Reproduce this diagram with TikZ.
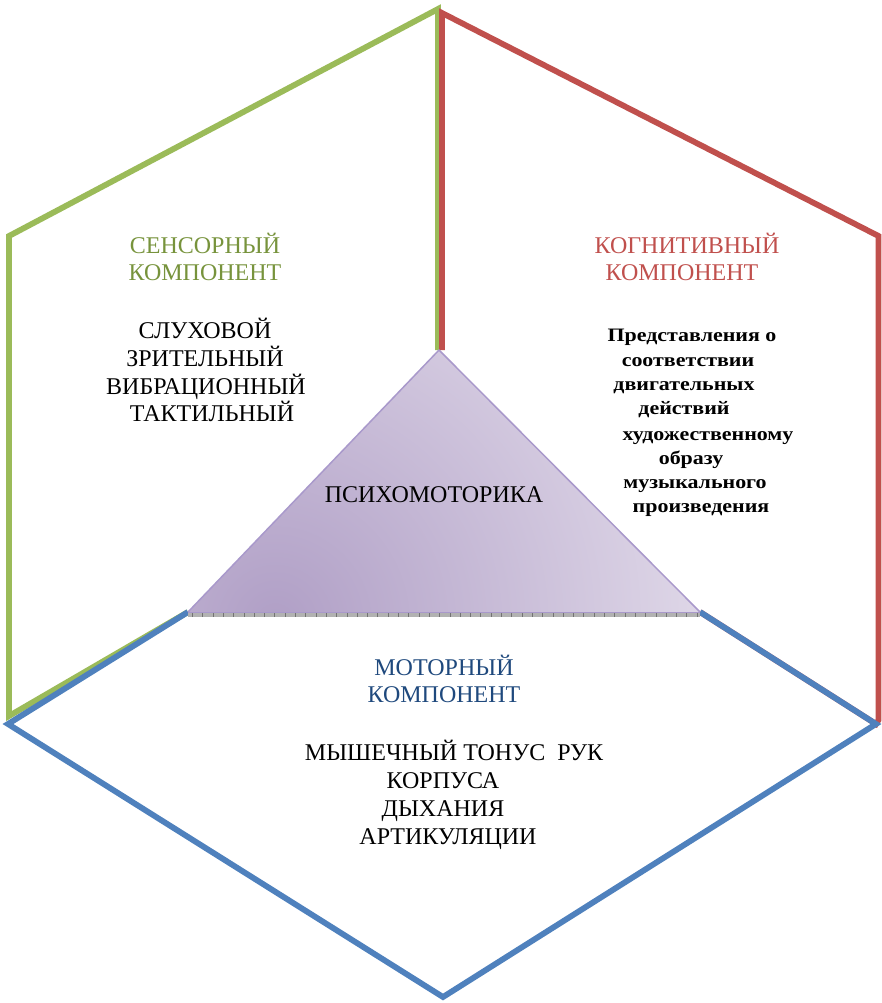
\documentclass[tikz,border=0pt]{standalone}
\usepackage{fontspec}
\setmainfont{Liberation Serif}
\begin{document}
\begin{tikzpicture}[x=1pt,y=-1pt]
\definecolor{sgreen}{HTML}{9BBB59}
\definecolor{sred}{HTML}{C0504D}
\definecolor{sblue}{HTML}{4F81BD}
\definecolor{tgreen}{HTML}{77933C}
\definecolor{tred}{HTML}{C0504D}
\definecolor{tblue}{HTML}{1F497D}
\definecolor{tridark}{HTML}{B09FC6}
\definecolor{trilight}{HTML}{E6E0ED}
\definecolor{triedge}{HTML}{A999CB}
\tikzset{
  side/.style={line width=5.8pt, line join=miter},
  lbl/.style={anchor=base, inner sep=0pt, font=\fontsize{24}{28}\selectfont},
  bld/.style={anchor=base, inner sep=0pt, font=\fontsize{19}{24}\selectfont\bfseries},
}
\newcommand{\wide}[1]{\scalebox{1.155}[1]{#1}}
\useasboundingbox (0,0) rectangle (881,1003);

% central triangle corners
\coordinate (apex) at (439,350);
\coordinate (triL) at (188,612);
\coordinate (triR) at (700,612);

% motor outline corners
\coordinate (b1) at (8,724);
\coordinate (b2) at (443,997);
\coordinate (b3) at (876,724);

% sensory (green) outline
\coordinate (g0) at (438,350);
\coordinate (g1) at (438,9);
\coordinate (g2) at (9,236);
\coordinate (g3) at (9,716);
\draw[side, sgreen] (g0) -- (g1) -- (g2) -- (g3) -- (triL);

% cognitive (red) outline, its lower edge runs under the blue one
\coordinate (r0) at (442,350);
\coordinate (r1) at (442,13);
\coordinate (r2) at (878.5,236);
\coordinate (r3) at (878.5,720);
\draw[side, sred] (r0) -- (r1) -- (r2) -- (r3) -- (b3) -- (triR);

% motor (blue) outline
\draw[side, sblue] (triL) -- (b1) -- (b2) -- (b3) -- (triR);

% shaded triangle
\begin{scope}
  \clip (apex) -- (triL) -- (triR) -- cycle;
  \shade[inner color=tridark, outer color=trilight] (275,622) circle (500);
\end{scope}
\draw[triedge, line width=1.5pt, line join=round] (triL) -- (apex) -- (triR);
% hatched base strip
\fill[black!30] (188,612) rectangle (700,617);
\draw[black!55, line width=5pt, dash pattern=on 1pt off 9.3pt] (192,614.5) -- (700,614.5);
\draw[triedge, line width=1pt] (triL) -- (triR);

% sensory component
\node[lbl, text=tgreen] (sens1) at (205,253) {СЕНСОРНЫЙ};
\node[lbl, text=tgreen] (sens2) at (205,280) {КОМПОНЕНТ};
\node[lbl] (s1) at (205,338) {СЛУХОВОЙ};
\node[lbl] (s2) at (205,366) {ЗРИТЕЛЬНЫЙ};
\node[lbl] (s3) at (206,394) {ВИБРАЦИОННЫЙ};
\node[lbl] (s4) at (212,421) {ТАКТИЛЬНЫЙ};

% cognitive component
\node[lbl, text=tred] (cog1) at (687,253) {КОГНИТИВНЫЙ};
\node[lbl, text=tred] (cog2) at (682,280) {КОМПОНЕНТ};
\node[bld] (c1) at (692,341) {\wide{Представления о}};
\node[bld] (c2) at (688,366) {\wide{соответствии}};
\node[bld] (c3) at (684,390) {\wide{двигательных}};
\node[bld] (c4) at (684,414) {\wide{действий}};
\node[bld] (c5) at (708,440) {\wide{художественному}};
\node[bld] (c6) at (691,464) {\wide{образу}};
\node[bld] (c7) at (695,488) {\wide{музыкального}};
\node[bld] (c8) at (701,512) {\wide{произведения}};

% centre
\node[lbl] (psy) at (434,502) {ПСИХОМОТОРИКА};

% motor component
\node[lbl, text=tblue] (mot1) at (444,675) {МОТОРНЫЙ};
\node[lbl, text=tblue] (mot2) at (444,702) {КОМПОНЕНТ};
\node[lbl] (m1) at (454,760) {МЫШЕЧНЫЙ ТОНУС\ \ РУК};
\node[lbl] (m2) at (443,788) {КОРПУСА};
\node[lbl] (m3) at (443,816) {ДЫХАНИЯ};
\node[lbl] (m4) at (448,844) {АРТИКУЛЯЦИИ};
\end{tikzpicture}
\end{document}
